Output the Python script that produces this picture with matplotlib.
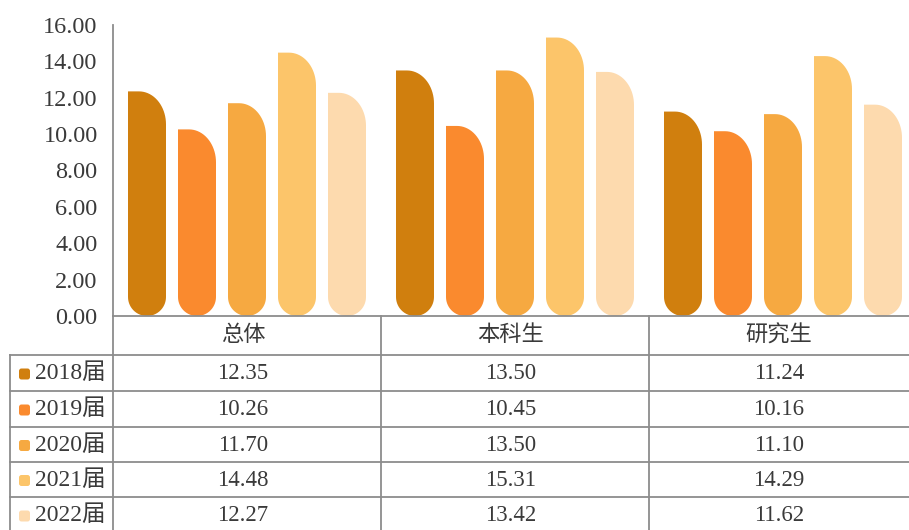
import matplotlib.pyplot as plt
import numpy as np
from matplotlib.path import Path
from matplotlib.patches import PathPatch, FancyBboxPatch

plt.rcParams['font.family'] = ['Liberation Serif', 'Noto Sans CJK SC']

groups = ["总体", "本科生", "研究生"]
years = ["2018届", "2019届", "2020届", "2021届", "2022届"]
values = [
    [12.35, 13.50, 11.24],
    [10.26, 10.45, 10.16],
    [11.70, 13.50, 11.10],
    [14.48, 15.31, 14.29],
    [12.27, 13.42, 11.62],
]
colors = ["#D07F0E", "#FA8A2E", "#F6A941", "#FCC56A", "#FDDAAE"]
yticks = np.arange(0, 17, 2)

W, H = 909, 530
line_c = "#8c8c8c"
text_c = "#3a3a3a"

fig = plt.figure(figsize=(W / 100, H / 100), dpi=100)
# bar area: x 113..909 px, y 25..316 px
ax = fig.add_axes([113 / W, 1 - 316 / H, (W - 113) / W, 291 / H])
col_w = 268
ax.set_xlim(0, (W - 113) / col_w)
ax.set_ylim(0, 16)
ax.set_yticks(yticks)
ax.set_yticklabels([f"{v:.2f}" for v in yticks], fontsize=17.5, color=text_c)
ax.tick_params(axis='y', length=0, pad=11)
ax.set_xticks([])
for s in ["top", "right", "bottom"]:
    ax.spines[s].set_visible(False)
ax.spines["left"].set_color(line_c)
ax.spines["left"].set_linewidth(1.3)

sx = col_w            # px per x unit
sy = 291 / 16         # px per y unit
bw = 38 / sx
step = 50 / sx
rx, ry = 27 / sx, 33 / sy
rb_x, rb_y = (38 / 2) / sx, (38 / 2) / sy


def rounded_bar(x0, w, h):
    verts = [(x0, rb_y), (x0, h), (x0 + w - rx, h)]
    t = np.linspace(np.pi / 2, 0, 20)
    cx, cy = x0 + w - rx, h - ry
    verts += list(zip(cx + rx * np.cos(t), cy + ry * np.sin(t)))
    verts.append((x0 + w, rb_y))
    t = np.linspace(0, -np.pi, 30)
    cx, cy = x0 + w / 2, rb_y
    verts += list(zip(cx + rb_x * np.cos(t), cy + rb_y * np.sin(t)))
    verts.append((x0, rb_y))
    return Path(verts, closed=True)


for i, (vals, c) in enumerate(zip(values, colors)):
    for j, v in enumerate(vals):
        xc = j + 0.5 + (i - 2) * step
        ax.add_patch(PathPatch(rounded_bar(xc - bw / 2, bw, v), facecolor=c,
                               edgecolor='none', clip_on=False))

# data table in pixel coords (y 316..530)
tb = fig.add_axes([0, 0, 1, (H - 316) / H])
tb.set_xlim(0, W)
tb.set_ylim(H, 316)
tb.axis("off")
col_edges = [113, 381, 649, 917]
row_edges = [316, 355, 391, 427, 462, 497, 533]
lw = 1.3
tb.plot([113, W], [316, 316], color=line_c, lw=lw, clip_on=False)
for y in row_edges[1:]:
    tb.plot([10, W], [y, y], color=line_c, lw=lw, clip_on=False)
tb.plot([10, 10], [row_edges[1], H], color=line_c, lw=lw, clip_on=False)
for x in col_edges[:3]:
    tb.plot([x, x], [316, H], color=line_c, lw=lw, clip_on=False)

for j, g in enumerate(groups):
    tb.text((col_edges[j] + col_edges[j + 1]) / 2 - 4, 336, g, ha="center",
            va="center", fontsize=16, color=text_c)
for i, yr in enumerate(years):
    yc = (row_edges[i + 1] + row_edges[i + 2]) / 2 + 1
    tb.add_patch(FancyBboxPatch((19, yc - 5.5), 11, 11,
                                boxstyle="round,pad=0,rounding_size=2.5",
                                facecolor=colors[i], edgecolor='none'))
    tb.text(35, yc, yr, ha="left", va="center", fontsize=17, color=text_c)
    for j in range(3):
        tb.text((col_edges[j] + col_edges[j + 1]) / 2 - 4, yc,
                f"{values[i][j]:.2f}", ha="center", va="center",
                fontsize=16.5, color=text_c)

fig.savefig("out.png", dpi=100)
